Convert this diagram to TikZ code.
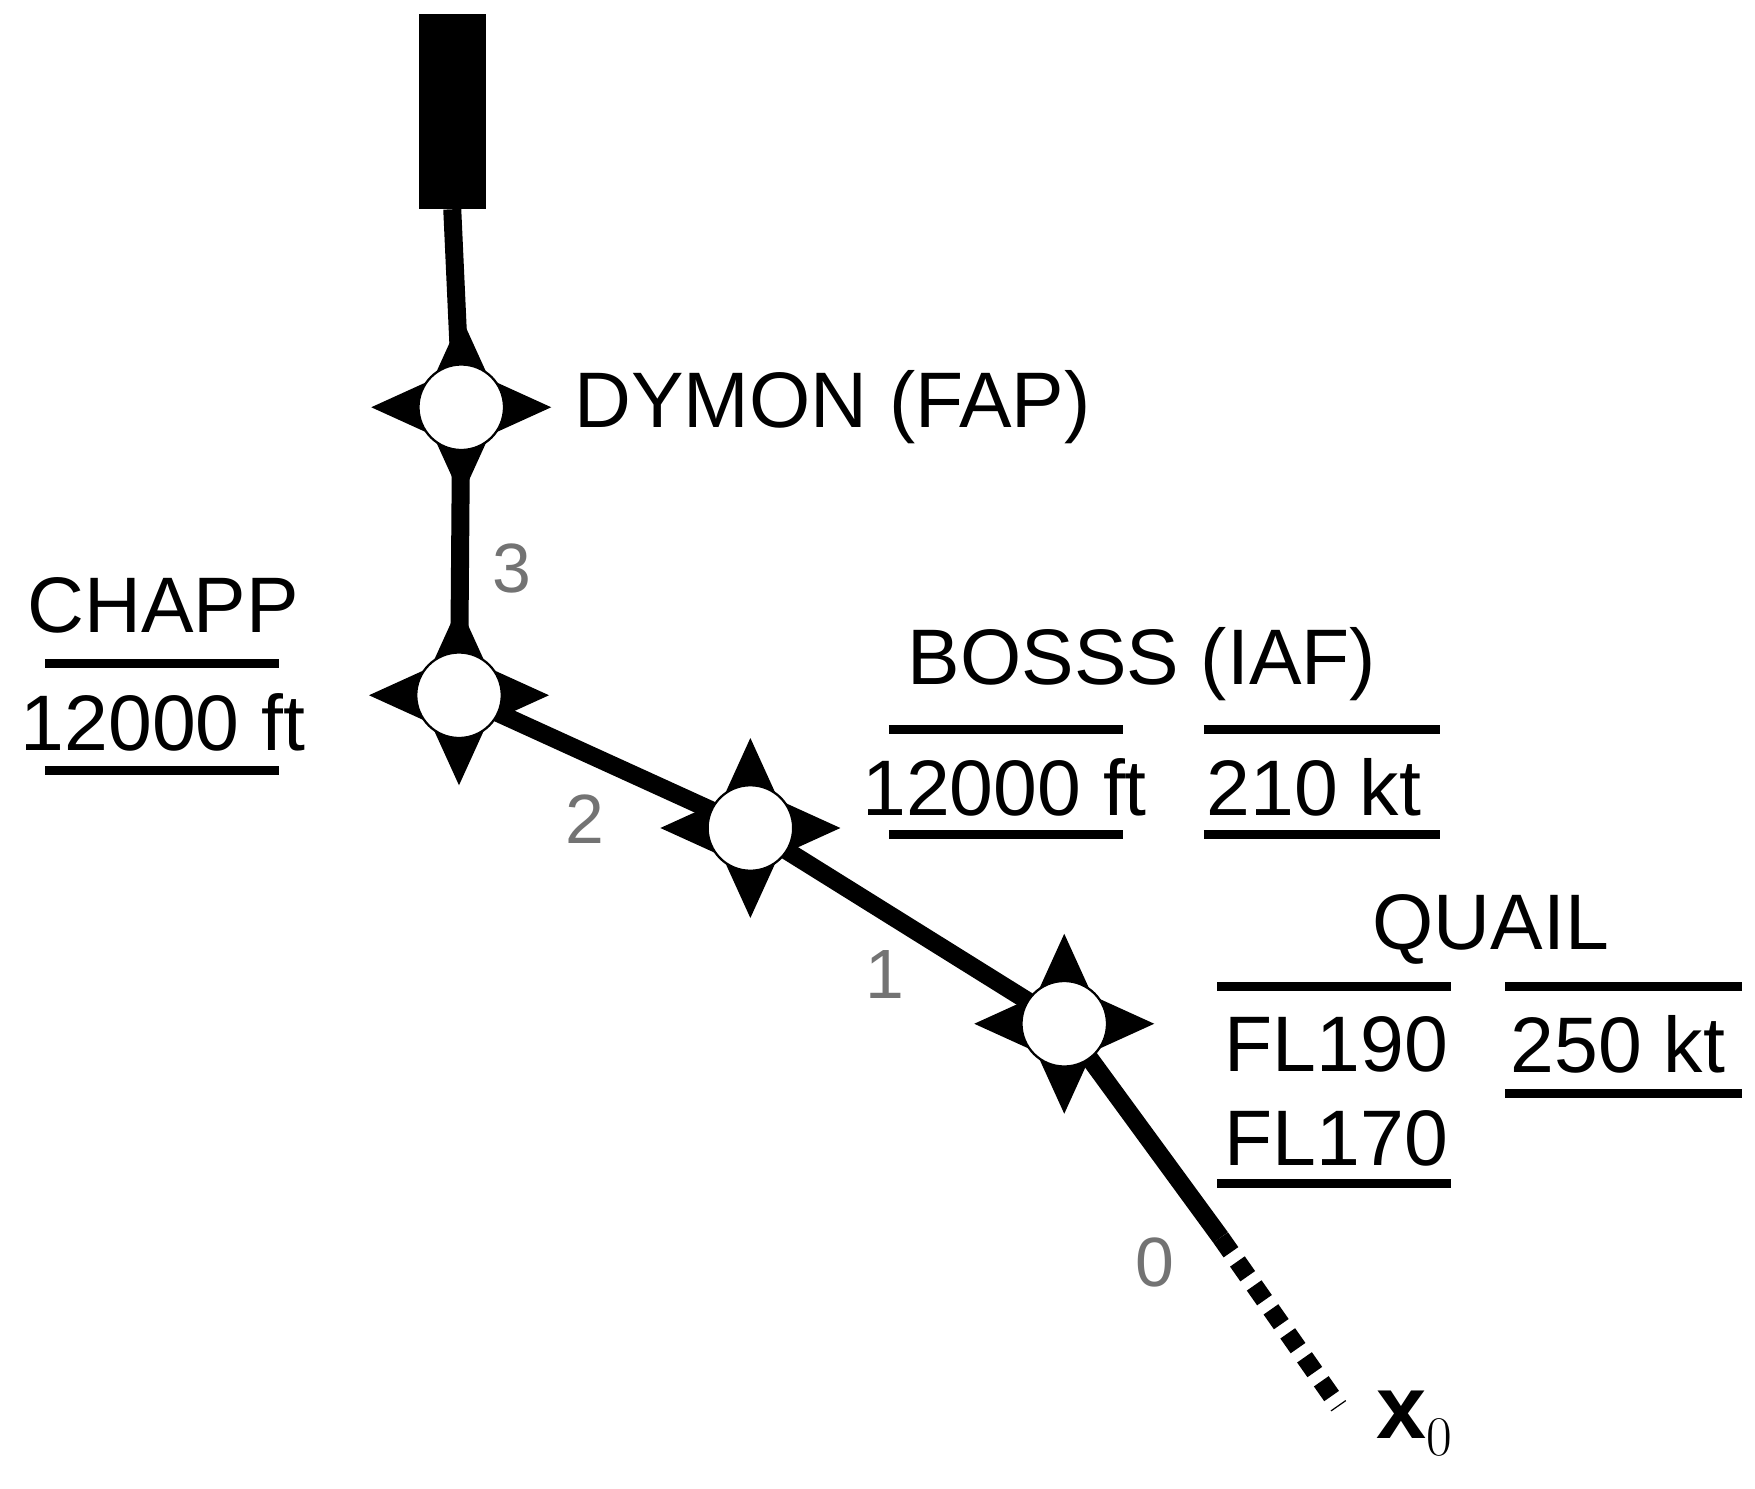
\documentclass[tikz,border=0pt]{standalone}
\usepackage{fontspec}
\setmainfont{Liberation Sans}
\begin{document}
\begin{tikzpicture}[x=0.5pt,y=-0.5pt,
  lbl/.style={font=\fontsize{35}{38}\selectfont,inner sep=0pt},
  num/.style={font=\fontsize{31}{34}\selectfont,text=black!55,inner sep=0pt},
  rule/.style={line width=4pt},
  route/.style={line width=8pt}]
\useasboundingbox (0,0) rectangle (1560,1323);
\fill (372,12) rectangle (432,186);
\coordinate (rw) at (402,186);
\coordinate (dy) at (410,362);
\coordinate (ch) at (408,618);
\coordinate (bo) at (667,736);
\coordinate (qu) at (946,910);
\coordinate (e1) at (1085,1100);
\coordinate (e2) at (1190,1250);
\draw[route] (rw) -- (dy) -- (ch) -- (bo) -- (qu) -- (e1);
\draw[route,dash pattern=on 8pt off 5pt] (e1) -- (e2);
\foreach \p in {dy,ch,bo,qu}{
  \fill[shift={(\p)}] (0,-80)--(25,-25)--(80,0)--(25,25)--(0,80)--(-25,25)--(-80,0)--(-25,-25)--cycle;
  \fill[white,draw=black,line width=1pt] (\p) circle (19pt);
}
\node[lbl,anchor=west] (dyl) at (510,362) {DYMON (FAP)};
\node[lbl] (chl) at (145,538) {CHAPP};
\draw[rule] (40,590) -- (248,590);
\node[lbl] (cha) at (145,642) {12000 ft};
\draw[rule] (40,685) -- (248,685);
\node[lbl] (bol) at (1015,590) {BOSSS (IAF)};
\draw[rule] (790,648) -- (998,648);
\draw[rule] (1070,648) -- (1280,648);
\node[lbl] (boa) at (893,700) {12000 ft};
\node[lbl] (bos) at (1168,700) {210 kt};
\draw[rule] (790,742) -- (998,742);
\draw[rule] (1070,742) -- (1280,742);
\node[lbl] (qul) at (1325,826) {QUAIL};
\draw[rule] (1082,877) -- (1290,877);
\draw[rule] (1338,877) -- (1548,877);
\node[lbl] (qua) at (1188,928) {FL190};
\node[lbl] (qus) at (1438,928) {250 kt};
\node[lbl] (qub) at (1188,1012) {FL170};
\draw[rule] (1082,1052) -- (1290,1052);
\draw[rule] (1338,972) -- (1548,972);
\node[num] (n3) at (455,505) {3};
\node[num] (n2) at (520,728) {2};
\node[num] (n1) at (787,866) {1};
\node[num] (n0) at (1027,1122) {0};
\node[font=\fontsize{40}{44}\selectfont,inner sep=0pt] (x0) at (1258,1265) {$\mathbf{x}_0$};
\end{tikzpicture}
\end{document}
